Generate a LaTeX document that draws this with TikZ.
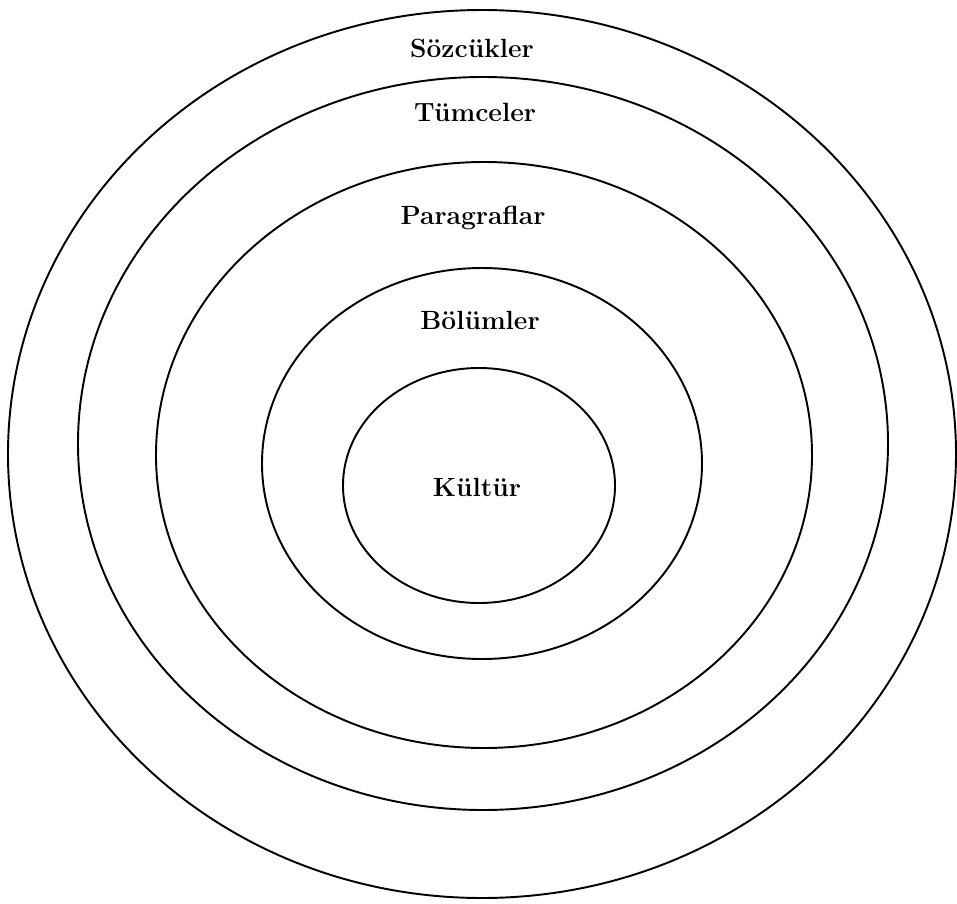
\documentclass[tikz,border=0pt]{standalone}
\usepackage{tikz}

\begin{document}
\begin{tikzpicture}[x=0.02cm,y=-0.02cm,
  ring/.style={draw=black,line width=1.1pt},
  lbl/.style={font=\fontsize{15}{17}\selectfont\bfseries}]
  \useasboundingbox (0,0) rectangle (957,903);
  % nested rings, outermost first
  \draw[ring] (482,454) ellipse [x radius=474, y radius=444];
  \draw[ring] (483,443.5) ellipse [x radius=405, y radius=366.5];
  \draw[ring] (484,455) ellipse [x radius=328, y radius=293];
  \draw[ring] (482,463.5) ellipse [x radius=220, y radius=195.5];
  \draw[ring] (479,485.5) ellipse [x radius=136, y radius=117.5];
  % ring labels
  \node[lbl] (sozcukler) at (472,48) {Sözcükler};
  \node[lbl] (tumceler) at (475,112) {Tümceler};
  \node[lbl] (paragraflar) at (473,218) {Paragraflar};
  \node[lbl] (bolumler) at (480,320) {Bölümler};
  \node[lbl] (kultur) at (477,487) {Kültür};
\end{tikzpicture}
\end{document}
